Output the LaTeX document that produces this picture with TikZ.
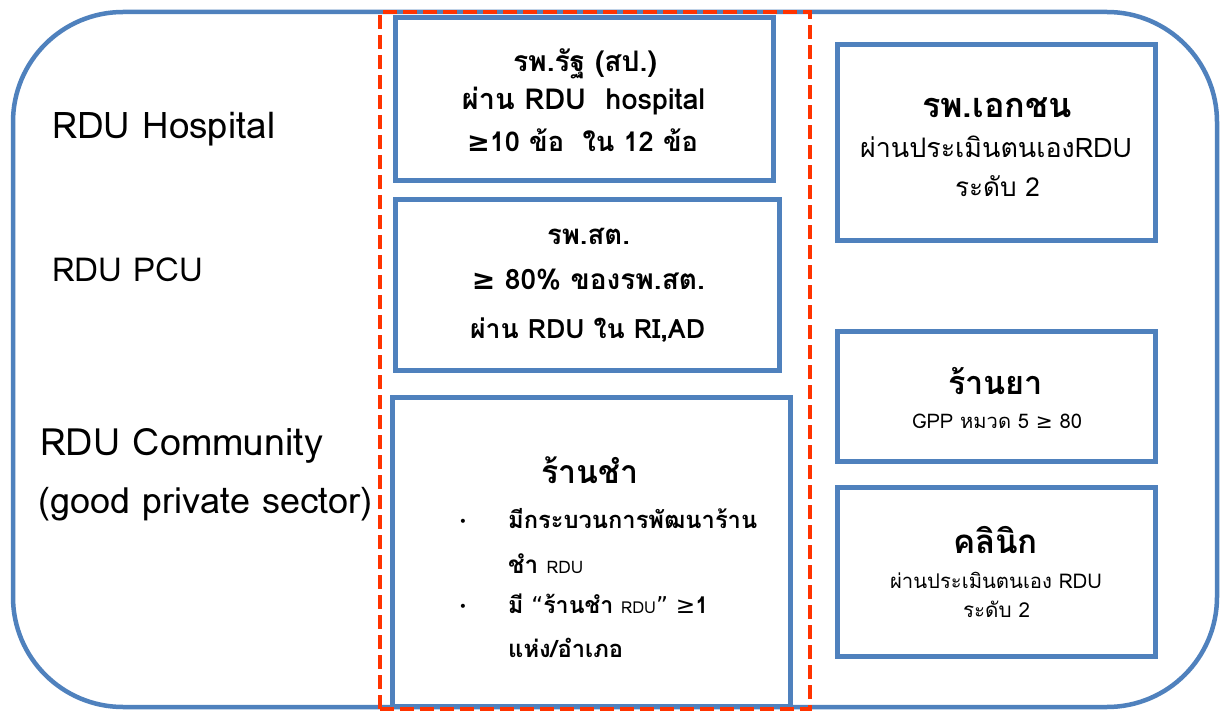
\documentclass[tikz,border=0pt]{standalone}
\usepackage{fontspec}
\usepackage{graphicx}
\setmainfont[Script=Thai]{Loma}
\newfontfamily\symf{DejaVu Sans}
\definecolor{bl}{HTML}{4F81BD}
\definecolor{rd}{HTML}{FF3300}
\newcommand{\fw}[2]{\resizebox{#1pt}{!}{#2}}
\newcommand{\gq}{{\symf ≥}}
\tikzset{
  panel/.style={draw=bl, line width=5pt, inner sep=0pt, outer sep=0pt},
  txt/.style={anchor=base, inner sep=0pt, font=\fontsize{24}{28}\selectfont},
  ltxt/.style={anchor=base west, inner sep=0pt, font=\fontsize{24}{28}\selectfont},
  bul/.style={inner sep=0pt, font=\symf\fontsize{14}{16}\selectfont}
}
\begin{document}
\begin{tikzpicture}[x=1pt,y=-1pt]
\useasboundingbox (0,0) rectangle (1221,711);
\fill[white] (0,0) rectangle (1221,711);
% outer rounded frame
\node[draw=bl, line width=4.5pt, rounded corners=110pt, minimum width=1204pt, minimum height=695pt, inner sep=0pt] (outer) at (615,359.5) {};
% boxes
\node[panel, minimum width=378pt, minimum height=163pt] (b1) at (584,99.5) {};
\node[panel, minimum width=384pt, minimum height=170pt] (b2) at (587,285) {};
\node[panel, minimum width=398pt, minimum height=309pt] (b3) at (591,551.5) {};
\node[panel, minimum width=318pt, minimum height=196pt] (b4) at (996,143) {};
\node[panel, minimum width=318pt, minimum height=129pt] (b5) at (996,396.5) {};
\node[panel, minimum width=318pt, minimum height=169pt] (b6) at (996,571.5) {};
% red dashed focus frame
\node[draw=rd, line width=4.5pt, dash pattern=on 14pt off 6pt, inner sep=0pt, minimum width=430pt, minimum height=697pt] (focus) at (595,360.5) {};
% left labels
\node[ltxt] (l1) at (52,139) {\fw{223}{RDU Hospital}};
\node[ltxt] (l2) at (52,282) {\fw{151}{RDU PCU}};
\node[ltxt] (l3) at (40,455) {\fw{283}{RDU Community}};
\node[ltxt] (l4) at (38,513) {\fw{334}{(good private sector)}};
% box 1
\node[txt] (t1a) at (585,72) {\fw{144}{\bfseries รพ.รัฐ (สป.)}};
\node[txt] (t1b) at (583.5,110) {\fw{243}{\bfseries ผ่าน RDU~~hospital}};
\node[txt] (t1c) at (582.5,152) {\fw{231}{\bfseries\gq 10 ข้อ~~ใน 12 ข้อ}};
% box 2
\node[txt] (t2a) at (588.5,245) {\fw{83}{\bfseries รพ.สต.}};
\node[txt] (t2b) at (588.5,290) {\fw{233}{\bfseries\gq{} 80\% ของรพ.สต.}};
\node[txt] (t2c) at (587.5,338) {\fw{235}{\bfseries ผ่าน RDU ใน RI,AD}};
% box 3
\node[txt] (t3a) at (590,483) {\fw{97}{\bfseries ร้านชำ}};
\node[bul] (d1) at (463,523) {•};
\node[bul] (d2) at (463,608) {•};
\node[ltxt] (t3b) at (508,528) {\fw{249}{\bfseries มีกระบวนการพัฒนาร้าน}};
\node[ltxt] (t3c) at (508,573) {\fw{75}{\bfseries ชำ {\mdseries\fontsize{17}{20}\selectfont RDU}}};
\node[ltxt] (t3d) at (508,613) {\fw{200}{\bfseries มี {\mdseries\symf “}ร้านชำ {\mdseries\fontsize{17}{20}\selectfont RDU}{\mdseries\symf ”} {\mdseries\gq}1}};
\node[ltxt] (t3e) at (508,657) {\fw{115}{\bfseries แห่ง/อำเภอ}};
% box 4
\node[txt] (t4a) at (997,118) {\fw{150}{\bfseries รพ.เอกชน}};
\node[txt] (t4b) at (996,158) {\fw{272}{ผ่านประเมินตนเองRDU}};
\node[txt] (t4c) at (997.5,197) {\fw{85}{ระดับ 2}};
% box 5
\node[txt] (t5a) at (995.5,394) {\fw{95}{\bfseries ร้านยา}};
\node[txt] (t5b) at (997,428) {\fw{170}{GPP หมวด 5 \gq{} 80}};
% box 6
\node[txt] (t6a) at (995.5,553) {\fw{85}{\bfseries คลินิก}};
\node[txt] (t6b) at (996,588) {\fw{212}{ผ่านประเมินตนเอง RDU}};
\node[txt] (t6c) at (996.5,617) {\fw{67}{ระดับ 2}};
\end{tikzpicture}
\end{document}
